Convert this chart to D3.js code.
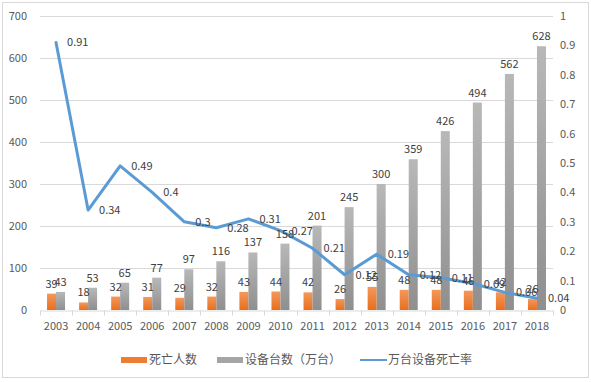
<!DOCTYPE html>
<html>
<head>
<meta charset="utf-8">
<script src="https://cdn.jsdelivr.net/npm/d3@7"></script>
<style>
  body { margin: 0; background: #fff; }
  svg { display: block; font-family: "Noto Sans CJK SC", "Noto Sans", sans-serif; }
  .tick-label { font-size: 11px; fill: #595959; }
  .data-label { font-size: 11px; fill: #404040; }
  .legend-label { font-size: 12px; fill: #595959; }
</style>
</head>
<body>
<script>
// chart data
var years = ["2003","2004","2005","2006","2007","2008","2009","2010",
             "2011","2012","2013","2014","2015","2016","2017","2018"];
var deaths = [39, 18, 32, 31, 29, 32, 43, 44, 42, 26, 55, 48, 48, 46, 42, 26];
var devices = [43, 53, 65, 77, 97, 116, 137, 158, 201, 245, 300, 359, 426, 494, 562, 628];
var rates = [0.91, 0.34, 0.49, 0.4, 0.3, 0.28, 0.31, 0.27, 0.21, 0.12, 0.19, 0.12, 0.11, 0.09, 0.06, 0.04];
var leftTicks = [0, 100, 200, 300, 400, 500, 600, 700];
var rightTicks = [0, 0.1, 0.2, 0.3, 0.4, 0.5, 0.6, 0.7, 0.8, 0.9, 1];
var seriesNames = ["死亡人数", "设备台数（万台）", "万台设备死亡率"];

var width = 591, height = 382,
    plotLeft = 40, plotRight = 553,
    plotTop = 16, plotBottom = 310;

var svg = d3.select("body").append("svg")
    .attr("width", width)
    .attr("height", height);

// gradients for the bars
var defs = svg.append("defs");
var gOrange = defs.append("linearGradient").attr("id", "gOrange")
    .attr("x1", 0).attr("y1", 0).attr("x2", 0).attr("y2", 1);
gOrange.append("stop").attr("offset", "0%").attr("stop-color", "#f3985a");
gOrange.append("stop").attr("offset", "100%").attr("stop-color", "#e86f1f");
var gGray = defs.append("linearGradient").attr("id", "gGray")
    .attr("x1", 0).attr("y1", 0).attr("x2", 0).attr("y2", 1);
gGray.append("stop").attr("offset", "0%").attr("stop-color", "#b8b8b8");
gGray.append("stop").attr("offset", "100%").attr("stop-color", "#8f8f8f");

// outer frame
svg.append("rect")
    .attr("x", 2.5).attr("y", 2.5)
    .attr("width", 586).attr("height", 375)
    .attr("fill", "none")
    .attr("stroke", "#d9d9d9");

var x = d3.scaleBand().domain(years).range([plotLeft, plotRight]);
var xSub = d3.scaleBand().domain(["deaths", "devices"])
    .range([0, x.bandwidth()]).paddingOuter(0.78);
var yLeft = d3.scaleLinear().domain([0, 700]).range([plotBottom, plotTop]);
var yRight = d3.scaleLinear().domain([0, 1]).range([plotBottom, plotTop]);

// gridlines
svg.append("g").selectAll("line")
    .data(leftTicks.filter(function(d){ return d > 0; }))
    .enter().append("line")
    .attr("x1", plotLeft).attr("x2", plotRight)
    .attr("y1", function(d){ return Math.round(yLeft(d)) + 0.5; })
    .attr("y2", function(d){ return Math.round(yLeft(d)) + 0.5; })
    .attr("stroke", "#d9d9d9");

// left axis labels
svg.append("g").selectAll("text")
    .data(leftTicks)
    .enter().append("text")
    .attr("class", "tick-label")
    .attr("x", 27)
    .attr("y", function(d){ return yLeft(d) + 4; })
    .attr("text-anchor", "end")
    .text(function(d){ return d; });

// right axis labels
svg.append("g").selectAll("text")
    .data(rightTicks)
    .enter().append("text")
    .attr("class", "tick-label")
    .attr("x", 560)
    .attr("y", function(d){ return yRight(d) + 4; })
    .text(function(d){ return d; });

// x axis
var xAxis = svg.append("g")
    .attr("transform", "translate(0," + (plotBottom + 0.5) + ")")
    .call(d3.axisBottom(x).tickSize(0).tickPadding(12));
xAxis.select(".domain").attr("stroke", "#d9d9d9");
xAxis.selectAll("text")
    .attr("class", "tick-label")
    .style("font-family", "Noto Sans CJK SC")
    .attr("font-size", null);
xAxis.selectAll(".sep")
    .data(years.concat(["end"]))
    .enter().append("line")
    .attr("class", "sep")
    .attr("x1", function(d, i){ return Math.round(plotLeft + i * x.step()) + 0.5; })
    .attr("x2", function(d, i){ return Math.round(plotLeft + i * x.step()) + 0.5; })
    .attr("y1", 0).attr("y2", 5)
    .attr("stroke", "#d9d9d9");

// bars
var barGroup = svg.append("g");
barGroup.selectAll(".death")
    .data(deaths)
    .enter().append("rect")
    .attr("class", "death")
    .attr("x", function(d, i){ return x(years[i]) + xSub("deaths"); })
    .attr("y", function(d){ return yLeft(d); })
    .attr("width", xSub.bandwidth())
    .attr("height", function(d){ return plotBottom - yLeft(d); })
    .attr("fill", "url(#gOrange)");
barGroup.selectAll(".device")
    .data(devices)
    .enter().append("rect")
    .attr("class", "device")
    .attr("x", function(d, i){ return x(years[i]) + xSub("devices"); })
    .attr("y", function(d){ return yLeft(d); })
    .attr("width", xSub.bandwidth())
    .attr("height", function(d){ return plotBottom - yLeft(d); })
    .attr("fill", "url(#gGray)");

// rate line
var line = d3.line()
    .x(function(d, i){ return x(years[i]) + x.bandwidth() / 2; })
    .y(function(d){ return yRight(d); });
svg.append("path")
    .datum(rates)
    .attr("d", line)
    .attr("fill", "none")
    .attr("stroke", "#5b9bd5")
    .attr("stroke-width", 3)
    .attr("stroke-linejoin", "round")
    .attr("stroke-linecap", "round");

// data labels
var labelGroup = svg.append("g");
labelGroup.selectAll(".lbl-death")
    .data(deaths)
    .enter().append("text")
    .attr("class", "data-label")
    .attr("text-anchor", "middle")
    .attr("x", function(d, i){ return x(years[i]) + xSub("deaths") + xSub.bandwidth() / 2; })
    .attr("y", function(d){ return yLeft(d) - 6; })
    .text(function(d){ return d; });
labelGroup.selectAll(".lbl-device")
    .data(devices)
    .enter().append("text")
    .attr("class", "data-label")
    .attr("text-anchor", "middle")
    .attr("x", function(d, i){ return x(years[i]) + xSub("devices") + xSub.bandwidth() / 2; })
    .attr("y", function(d){ return yLeft(d) - 6; })
    .text(function(d){ return d; });
labelGroup.selectAll(".lbl-rate")
    .data(rates)
    .enter().append("text")
    .attr("class", "data-label")
    .attr("x", function(d, i){ return x(years[i]) + x.bandwidth() / 2 + 11; })
    .attr("y", function(d){ return yRight(d) + 4; })
    .text(function(d){ return d; });

// legend
var legend = svg.append("g").attr("transform", "translate(0,360)");
var legendX = [121, 217, 360];
legend.append("rect")
    .attr("x", legendX[0]).attr("y", -3)
    .attr("width", 26).attr("height", 6)
    .attr("fill", "#ed7d31");
legend.append("rect")
    .attr("x", legendX[1]).attr("y", -3)
    .attr("width", 26).attr("height", 6)
    .attr("fill", "#a5a5a5");
legend.append("line")
    .attr("x1", legendX[2]).attr("x2", legendX[2] + 27)
    .attr("y1", 0).attr("y2", 0)
    .attr("stroke", "#5b9bd5")
    .attr("stroke-width", 2);
legend.selectAll("text")
    .data(seriesNames)
    .enter().append("text")
    .attr("class", "legend-label")
    .attr("x", function(d, i){ return legendX[i] + 28; })
    .attr("y", 4)
    .text(function(d){ return d; });
</script>
</body>
</html>
